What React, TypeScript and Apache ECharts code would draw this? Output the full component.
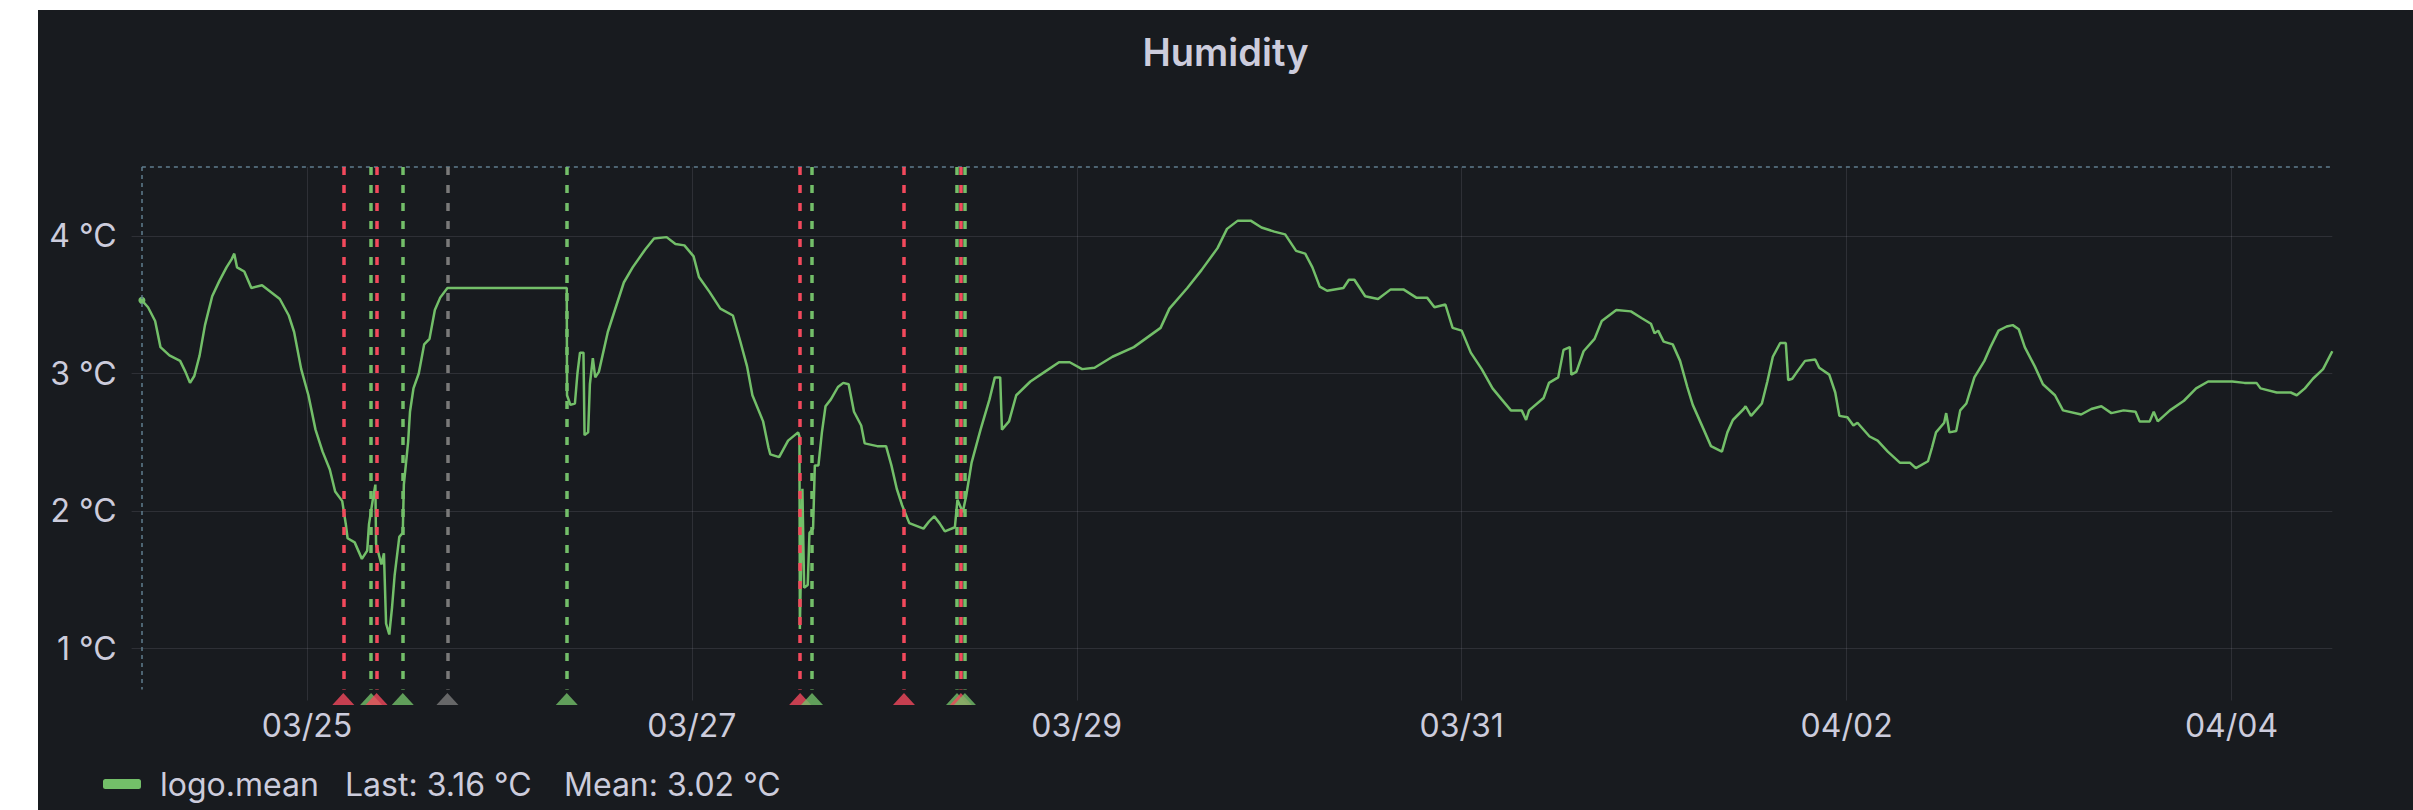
import { useEffect, useRef } from 'react';
import * as echarts from 'echarts';

const YEAR = 2023;

// logo.mean readings per day, [HH:mm, °C]
const mar24: [string, number][] = [
  ['03:25', 3.53], ['04:11', 3.48], ['05:04', 3.38], ['05:44', 3.19], ['06:51', 3.13],
  ['08:11', 3.09], ['08:51', 3.01], ['09:25', 2.93], ['09:57', 2.98], ['10:37', 3.13],
  ['11:17', 3.35], ['12:11', 3.56], ['13:04', 3.67], ['13:58', 3.77], ['14:37', 3.83],
  ['14:56', 3.87], ['15:17', 3.77], ['16:11', 3.74], ['17:04', 3.62], ['18:24', 3.64],
  ['19:44', 3.58], ['20:37', 3.54], ['21:44', 3.42], ['22:24', 3.3], ['23:17', 3.03],
];
const mar25: [string, number][] = [
  ['00:11', 2.84], ['01:04', 2.59], ['01:57', 2.43], ['02:51', 2.3], ['03:31', 2.14],
  ['04:24', 2.07], ['04:51', 1.9], ['05:04', 1.8], ['05:57', 1.77], ['06:51', 1.65],
  ['07:31', 1.71], ['07:44', 1.9], ['08:11', 2.07], ['08:32', 2.19], ['08:37', 1.76],
  ['09:17', 1.61], ['09:36', 1.69], ['09:52', 1.18], ['10:16', 1.1], ['10:37', 1.3],
  ['10:56', 1.53], ['11:31', 1.81], ['11:57', 1.84], ['12:05', 2.19], ['12:37', 2.5],
  ['12:51', 2.72], ['13:17', 2.89], ['13:57', 3.0], ['14:37', 3.21], ['15:17', 3.25],
  ['15:57', 3.46], ['16:37', 3.55], ['17:31', 3.62],
];
const mar26: [string, number][] = [
  ['08:24', 3.62], ['08:26', 2.84], ['08:51', 2.77], ['09:25', 2.78], ['09:44', 3.0],
  ['10:03', 3.15], ['10:29', 3.15], ['10:37', 2.55], ['11:04', 2.57], ['11:17', 2.92],
  ['11:39', 3.11], ['11:57', 2.97], ['12:24', 3.01], ['13:31', 3.3], ['14:24', 3.46],
  ['15:31', 3.66], ['16:37', 3.77], ['18:11', 3.9], ['19:17', 3.98], ['20:51', 3.99],
  ['21:57', 3.94], ['23:04', 3.93],
];
const mar27: [string, number][] = [
  ['00:13', 3.85], ['00:53', 3.7], ['02:13', 3.59], ['03:33', 3.47], ['05:07', 3.42],
  ['06:00', 3.24], ['06:53', 3.05], ['07:33', 2.84], ['08:53', 2.65], ['09:33', 2.46],
  ['09:47', 2.41], ['10:53', 2.39], ['12:00', 2.51], ['13:15', 2.57], ['13:25', 2.54],
  ['13:28', 1.14], ['13:47', 2.16], ['14:00', 1.44], ['14:27', 1.46], ['14:40', 1.84],
  ['15:07', 1.87], ['15:20', 2.33], ['15:47', 2.33], ['16:13', 2.57], ['16:40', 2.76],
  ['17:20', 2.81], ['18:13', 2.9], ['18:53', 2.93], ['19:33', 2.92], ['20:13', 2.72],
  ['21:07', 2.62], ['21:33', 2.49], ['23:07', 2.47],
];
const mar28: [string, number][] = [
  ['00:13', 2.47], ['00:53', 2.33], ['01:33', 2.16], ['02:13', 2.04], ['03:07', 1.91],
  ['04:53', 1.87], ['05:33', 1.92], ['06:13', 1.96], ['06:53', 1.91], ['07:33', 1.85],
  ['08:48', 1.88], ['09:07', 2.08], ['09:47', 1.99], ['10:13', 2.11], ['10:53', 2.35],
  ['12:00', 2.59], ['13:07', 2.81], ['13:47', 2.97], ['14:27', 2.97], ['14:40', 2.59],
  ['15:33', 2.65], ['16:27', 2.84], ['18:13', 2.94], ['20:00', 3.01], ['21:47', 3.08],
  ['23:07', 3.08],
];
const mar29: [string, number][] = [
  ['00:40', 3.03], ['02:13', 3.04], ['04:27', 3.12], ['07:07', 3.19], ['10:27', 3.33],
  ['11:33', 3.47], ['13:47', 3.62], ['15:33', 3.75], ['17:33', 3.91], ['18:44', 4.05],
  ['20:05', 4.11], ['21:41', 4.11], ['23:02', 4.06],
];
const mar30: [string, number][] = [
  ['00:38', 4.03], ['01:59', 4.01], ['03:21', 3.89], ['04:29', 3.87], ['05:23', 3.77],
  ['06:18', 3.63], ['07:13', 3.6], ['09:15', 3.62], ['09:56', 3.68], ['10:37', 3.68],
  ['11:58', 3.56], ['13:34', 3.54], ['15:09', 3.61], ['16:44', 3.61], ['18:20', 3.55],
  ['19:41', 3.55], ['20:36', 3.48], ['21:58', 3.5], ['22:52', 3.33],
];
const mar31: [string, number][] = [
  ['00:00', 3.31], ['01:08', 3.15], ['02:30', 3.03], ['03:51', 2.89], ['04:59', 2.81],
  ['06:08', 2.73], ['07:29', 2.73], ['08:02', 2.66], ['08:24', 2.73], ['10:13', 2.82],
  ['10:53', 2.93], ['12:02', 2.97], ['12:42', 3.17], ['13:29', 3.19], ['13:40', 2.99],
  ['14:18', 3.01], ['15:12', 3.16], ['16:34', 3.25], ['17:28', 3.38], ['19:17', 3.46],
  ['21:06', 3.45], ['22:28', 3.4], ['23:36', 3.36],
];
const apr01: [string, number][] = [
  ['00:03', 3.29], ['00:30', 3.31], ['01:11', 3.23], ['02:19', 3.21], ['03:14', 3.09],
  ['04:08', 2.9], ['04:49', 2.77], ['06:11', 2.59], ['07:05', 2.47], ['08:27', 2.43],
  ['09:08', 2.57], ['09:49', 2.66], ['11:10', 2.74], ['11:24', 2.76], ['12:05', 2.69],
  ['13:26', 2.78], ['14:07', 2.94], ['14:48', 3.12], ['15:43', 3.22], ['16:25', 3.22],
  ['16:43', 2.95], ['17:13', 2.96], ['17:49', 3.01], ['18:49', 3.09], ['20:05', 3.1],
  ['20:35', 3.04], ['21:50', 2.99], ['22:35', 2.86], ['23:06', 2.69],
];
const apr02: [string, number][] = [
  ['00:06', 2.68], ['00:51', 2.62], ['01:21', 2.64], ['02:52', 2.54], ['03:52', 2.51],
  ['05:08', 2.43], ['06:38', 2.35], ['07:53', 2.35], ['08:38', 2.31], ['10:09', 2.36],
  ['10:39', 2.46], ['11:09', 2.57], ['12:10', 2.64], ['12:25', 2.71], ['12:49', 2.57],
  ['13:40', 2.58], ['14:10', 2.73], ['14:56', 2.78], ['15:56', 2.97], ['17:11', 3.09],
  ['17:56', 3.19], ['18:57', 3.31], ['19:57', 3.34], ['20:43', 3.35], ['21:28', 3.32],
  ['22:13', 3.19], ['23:28', 3.05],
];
const apr03: [string, number][] = [
  ['00:29', 2.92], ['01:59', 2.84], ['02:59', 2.73], ['05:15', 2.7], ['06:31', 2.74],
  ['07:46', 2.76], ['09:01', 2.71], ['10:32', 2.73], ['12:02', 2.72], ['12:32', 2.65],
  ['13:48', 2.65], ['14:18', 2.72], ['14:48', 2.65], ['16:19', 2.73], ['18:04', 2.8],
  ['19:35', 2.89], ['21:05', 2.94], ['22:35', 2.94],
];
const apr04: [string, number][] = [
  ['00:06', 2.94], ['01:37', 2.93], ['03:07', 2.93], ['03:37', 2.89], ['05:38', 2.86],
  ['07:23', 2.86], ['08:08', 2.84], ['09:09', 2.89], ['10:09', 2.96], ['11:25', 3.03],
  ['12:34', 3.16],
];

const days: [string, [string, number][]][] = [
  ['03-24', mar24], ['03-25', mar25], ['03-26', mar26], ['03-27', mar27],
  ['03-28', mar28], ['03-29', mar29], ['03-30', mar30], ['03-31', mar31],
  ['04-01', apr01], ['04-02', apr02], ['04-03', apr03], ['04-04', apr04],
];

// annotation markers
const annotationTimes = [
  '03-25 04:32', '03-25 08:00', '03-25 08:41', '03-25 11:57', '03-25 17:31', '03-26 08:24',
  '03-27 13:30', '03-27 14:59', '03-28 02:27', '03-28 09:04', '03-28 09:33', '03-28 10:03',
];
const annotationKinds = [
  'alert', 'ok', 'alert', 'ok', 'pending', 'ok',
  'alert', 'ok', 'alert', 'ok', 'alert', 'ok',
];

const xTicks = ['03-25 00:00', '03-27 00:00', '03-29 00:00', '03-31 00:00', '04-02 00:00', '04-04 00:00'];
const yTicks = [1, 2, 3, 4];

const rangeStart = '03-24 02:08';
const rangeEnd = '04-04 12:34';
const yMin = 0.62;
const yMax = 4.5;
const regionBottom = 0.7;

const seriesName = 'logo.mean';
const meanReading = '3.02';

const COLORS: Record<string, string> = {
  alert: '#F2495C',
  ok: '#73BF69',
  pending: '#7a7a7a',
};
const TEXT = '#ccccdc';
const GRID = 'rgba(204,204,220,0.12)';
const FONT = 'Inter, "Noto Sans", sans-serif';

const ts = (s: string) => new Date(`${YEAR}-${s.slice(0, 5)}T${s.slice(6)}:00`).getTime();
const pad = (n: number) => String(n).padStart(2, '0');

export default function App() {
  const chartRef = useRef<HTMLDivElement>(null);

  useEffect(() => {
    if (!chartRef.current) return;
    const chart = echarts.init(chartRef.current, null, { renderer: 'svg' });

    const points = days.flatMap(([day, rows]) => rows.map(([hm, v]) => [ts(`${day} ${hm}`), v]));
    const first = points[0][0] as number;
    const last = points[points.length - 1];

    const option: echarts.EChartsOption = {
      animation: false,
      backgroundColor: '#181b1f',
      textStyle: { fontFamily: FONT },
      title: {
        text: 'Humidity',
        left: 'center',
        top: 18,
        textStyle: { color: TEXT, fontSize: 38, fontWeight: 600, fontFamily: FONT },
      },
      grid: { left: 93.6, right: 80.7, top: 157, bottom: 109.5 },
      xAxis: {
        type: 'value',
        min: ts(rangeStart),
        max: ts(rangeEnd),
        axisLine: { show: false },
        axisTick: { show: false, customValues: xTicks.map(ts) },
        axisLabel: {
          customValues: xTicks.map(ts),
          color: TEXT,
          fontSize: 32,
          fontFamily: FONT,
          margin: 9,
          formatter: (v: number) => {
            const d = new Date(v);
            return `${pad(d.getMonth() + 1)}/${pad(d.getDate())}`;
          },
        },
        splitLine: { show: true, lineStyle: { color: GRID, width: 1 } },
      },
      yAxis: {
        type: 'value',
        min: yMin,
        max: yMax,
        axisLine: { show: false },
        axisTick: { show: false, customValues: yTicks },
        axisLabel: {
          customValues: yTicks,
          color: TEXT,
          fontSize: 32,
          fontFamily: FONT,
          margin: 15,
          formatter: '{value} °C',
        },
        splitLine: { show: true, lineStyle: { color: GRID, width: 1 } },
      },
      legend: {
        left: 60,
        top: 753,
        icon: 'roundRect',
        itemWidth: 38,
        itemHeight: 10,
        data: [seriesName],
        formatter: (name: string) =>
          `{a|${name}}{b|Last: ${(last[1] as number).toFixed(2)} °C}{c|Mean: ${meanReading} °C}`,
        textStyle: {
          color: TEXT,
          fontSize: 32,
          fontFamily: FONT,
          padding: [0, 0, 0, 14],
          rich: {
            a: { width: 185, fontSize: 32, lineHeight: 36, color: TEXT, fontFamily: FONT },
            b: { width: 219, fontSize: 32, lineHeight: 36, color: TEXT, fontFamily: FONT },
            c: { fontSize: 32, lineHeight: 36, color: TEXT, fontFamily: FONT },
          },
        },
      },
      series: [
        {
          name: seriesName,
          type: 'line',
          data: points,
          showSymbol: true,
          showAllSymbol: true,
          symbol: 'circle',
          symbolSize: (_v: any, p: any) => (p.dataIndex === 0 ? 7 : 0),
          itemStyle: { color: '#73BF69' },
          lineStyle: { color: '#73BF69', width: 2.5 },
          z: 2,
        },
        {
          name: 'regions',
          type: 'line',
          data: [],
          clip: false,
          silent: true,
          z: 3,
          markLine: {
            silent: true,
            symbol: ['none', 'none'],
            label: { show: false },
            data: [
              [
                { coord: [first, yMax], lineStyle: { color: '#5f7d8e', width: 1.5, type: [4, 4] } },
                { coord: [ts(rangeEnd), yMax] },
              ],
              [
                { coord: [first, yMax], lineStyle: { color: '#5f7d8e', width: 1.5, type: [4, 4] } },
                { coord: [first, regionBottom] },
              ],
              ...annotationTimes.map((t, i) => [
                { coord: [ts(t), yMax], lineStyle: { color: COLORS[annotationKinds[i]], width: 3.5, type: [8, 10] } },
                { coord: [ts(t), regionBottom] },
              ]),
            ] as any,
          },
        },
        {
          name: 'annotations',
          type: 'scatter',
          silent: true,
          clip: false,
          symbol: 'triangle',
          symbolSize: [22, 12],
          symbolOffset: [0, -1.5],
          z: 4,
          data: annotationTimes.map((t, i) => ({
            value: [ts(t), yMin],
            itemStyle: { color: COLORS[annotationKinds[i]] },
          })),
        },
      ],
    };

    chart.setOption(option);

    const handleResize = () => chart.resize();
    window.addEventListener('resize', handleResize);
    return () => {
      window.removeEventListener('resize', handleResize);
      chart.dispose();
    };
  }, []);

  return (
    <div style={{ position: 'fixed', left: 0, top: 0, width: 2413, height: 810, background: '#ffffff' }}>
      <div ref={chartRef} style={{ position: 'absolute', left: 38, top: 10, width: 2375, height: 800 }} />
    </div>
  );
}
